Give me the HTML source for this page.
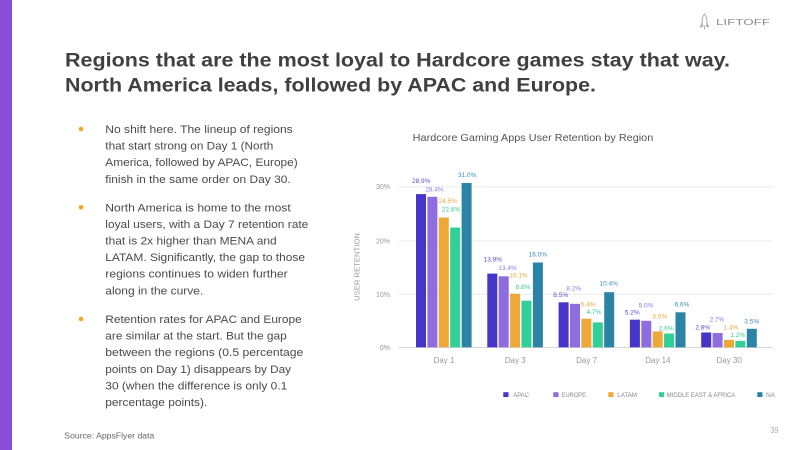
<!DOCTYPE html>
<html>
<head>
<meta charset="utf-8">
<style>
  html,body{margin:0;padding:0;background:#fff;}
  svg{display:block;}
  text{font-family:"Liberation Sans",Arial,sans-serif;}
</style>
</head>
<body>
<svg width="800" height="450" viewBox="0 0 800 450" xmlns="http://www.w3.org/2000/svg">
  <rect x="0" y="0" width="800" height="450" fill="#ffffff"/>
  <!-- left purple strip -->
  <rect x="0" y="0" width="12" height="450" fill="#8a4fd6"/>

  <!-- logo -->
  <g fill="none" stroke="#9a9a9a" stroke-width="0.8">
    <path d="M704.5 14 C702.5 16.5 702 19 702 22 L702 26 L707 26 L707 22 C707 19 706.5 16.5 704.5 14 Z"/>
    <path d="M702 23 L700.5 27 L702 26.5 M707 23 L708.5 27 L707 26.5"/>
    <path d="M704.5 27 L704.5 29.5"/>
  </g>
  <text x="716" y="25" font-size="8.5" fill="#8a8a8a" textLength="54" lengthAdjust="spacingAndGlyphs">LIFTOFF</text>

  <!-- title -->
  <text x="65" y="66.5" font-size="19.5" font-weight="bold" fill="#404040" textLength="665" lengthAdjust="spacingAndGlyphs">Regions that are the most loyal to Hardcore games stay that way.</text>
  <text x="65" y="91.5" font-size="19.5" font-weight="bold" fill="#404040" textLength="531" lengthAdjust="spacingAndGlyphs">North America leads, followed by APAC and Europe.</text>

  <!-- bullets -->
  <g fill="#f5a623">
    <circle cx="81" cy="129" r="2.3"/>
    <circle cx="81" cy="207.3" r="2.3"/>
    <circle cx="81" cy="319" r="2.3"/>
  </g>
  <g font-size="11.2" fill="#4a4a4a">
    <text x="105.3" y="133" textLength="187.4" lengthAdjust="spacingAndGlyphs">No shift here. The lineup of regions</text>
    <text x="105.3" y="149.6" textLength="168" lengthAdjust="spacingAndGlyphs">that start strong on Day 1 (North</text>
    <text x="105.3" y="166.2" textLength="192.4" lengthAdjust="spacingAndGlyphs">America, followed by APAC, Europe)</text>
    <text x="105.3" y="182.8" textLength="185.4" lengthAdjust="spacingAndGlyphs">finish in the same order on Day 30.</text>

    <text x="105.3" y="211.3" textLength="185.4" lengthAdjust="spacingAndGlyphs">North America is home to the most</text>
    <text x="105.3" y="227.9" textLength="203" lengthAdjust="spacingAndGlyphs">loyal users, with a Day 7 retention rate</text>
    <text x="105.3" y="244.5" textLength="171.4" lengthAdjust="spacingAndGlyphs">that is 2x higher than MENA and</text>
    <text x="105.3" y="261.1" textLength="199.7" lengthAdjust="spacingAndGlyphs">LATAM. Significantly, the gap to those</text>
    <text x="105.3" y="277.7" textLength="182.4" lengthAdjust="spacingAndGlyphs">regions continues to widen further</text>
    <text x="105.3" y="294.3" textLength="98" lengthAdjust="spacingAndGlyphs">along in the curve.</text>

    <text x="105.3" y="323" textLength="196.4" lengthAdjust="spacingAndGlyphs">Retention rates for APAC and Europe</text>
    <text x="105.3" y="339.6" textLength="181.4" lengthAdjust="spacingAndGlyphs">are similar at the start. But the gap</text>
    <text x="105.3" y="356.2" textLength="198" lengthAdjust="spacingAndGlyphs">between the regions (0.5 percentage</text>
    <text x="105.3" y="372.8" textLength="185.7" lengthAdjust="spacingAndGlyphs">points on Day 1) disappears by Day</text>
    <text x="105.3" y="389.4" textLength="182" lengthAdjust="spacingAndGlyphs">30 (when the difference is only 0.1</text>
    <text x="105.3" y="406" textLength="102" lengthAdjust="spacingAndGlyphs">percentage points).</text>
  </g>

  <!-- source / page -->
  <text x="64.3" y="438.5" font-size="8" fill="#666" textLength="90" lengthAdjust="spacingAndGlyphs">Source: AppsFlyer data</text>
  <text x="770" y="433" font-size="8" fill="#aaa" textLength="8.5" lengthAdjust="spacingAndGlyphs">39</text>

  <!-- chart title -->
  <text x="412.7" y="141" font-size="10.5" fill="#555" textLength="240.6" lengthAdjust="spacingAndGlyphs">Hardcore Gaming Apps User Retention by Region</text>

  <!-- gridlines -->
  <g stroke="#ececec" stroke-width="1">
    <line x1="398" y1="186.7" x2="773" y2="186.7"/>
    <line x1="398" y1="241" x2="773" y2="241"/>
    <line x1="398" y1="294.3" x2="773" y2="294.3"/>
  </g>
  <line x1="398" y1="347.5" x2="773" y2="347.5" stroke="#d6d6d6" stroke-width="1"/>

  <!-- y axis labels -->
  <g font-size="7" fill="#999" text-anchor="end">
    <text x="390" y="189.2">30%</text>
    <text x="390" y="243.5">20%</text>
    <text x="390" y="296.8">10%</text>
    <text x="390" y="349.8">0%</text>
  </g>
  <text transform="translate(359.5,267) rotate(-90)" x="0" y="0" font-size="7" fill="#999" text-anchor="middle" textLength="68" lengthAdjust="spacingAndGlyphs">USER RETENTION</text>

  <!-- bars -->
  <!-- APAC -->
  <g fill="#4535c8">
    <rect x="416" y="194.1" width="10" height="153.2"/>
    <rect x="487.3" y="273.6" width="10" height="73.7"/>
    <rect x="558.6" y="302.3" width="10" height="45"/>
    <rect x="629.9" y="319.7" width="10" height="27.6"/>
    <rect x="701.2" y="332.5" width="10" height="14.8"/>
  </g>
  <!-- EUROPE -->
  <g fill="#8d6ddf">
    <rect x="427.4" y="196.8" width="10" height="150.5"/>
    <rect x="498.7" y="276.3" width="10" height="71"/>
    <rect x="570" y="303.8" width="10" height="43.5"/>
    <rect x="641.3" y="320.8" width="10" height="26.5"/>
    <rect x="712.6" y="333" width="10" height="14.3"/>
  </g>
  <!-- LATAM -->
  <g fill="#eea838">
    <rect x="438.8" y="217.5" width="10" height="129.8"/>
    <rect x="510.1" y="293.8" width="10" height="53.5"/>
    <rect x="581.4" y="318.7" width="10" height="28.6"/>
    <rect x="652.7" y="331.4" width="10" height="15.9"/>
    <rect x="724" y="339.9" width="10" height="7.4"/>
  </g>
  <!-- MEA -->
  <g fill="#31d096">
    <rect x="450.2" y="227.5" width="10" height="119.8"/>
    <rect x="521.5" y="300.7" width="10" height="46.6"/>
    <rect x="592.8" y="322.4" width="10" height="24.9"/>
    <rect x="664.1" y="333.5" width="10" height="13.8"/>
    <rect x="735.4" y="340.9" width="10" height="6.4"/>
  </g>
  <!-- NA -->
  <g fill="#2b84a6">
    <rect x="461.6" y="183" width="10" height="164.3"/>
    <rect x="532.9" y="262.5" width="10" height="84.8"/>
    <rect x="604.2" y="292.2" width="10" height="55.1"/>
    <rect x="675.5" y="312.3" width="10" height="35"/>
    <rect x="746.8" y="328.8" width="10" height="18.5"/>
  </g>

  <!-- data labels -->
  <g font-size="6.5" text-anchor="middle">
    <g fill="#5a4bd2">
      <text x="421.2" y="183">28.9%</text>
      <text x="492.8" y="261.3">13.9%</text>
      <text x="560.7" y="297">8.5%</text>
      <text x="632.2" y="314.6">5.2%</text>
      <text x="702.8" y="329.6">2.8%</text>
    </g>
    <g fill="#9278e2">
      <text x="434.5" y="191.6">28.4%</text>
      <text x="507.5" y="270">13.4%</text>
      <text x="573.7" y="290.6">8.2%</text>
      <text x="646" y="307.3">5.0%</text>
      <text x="717" y="321.6">2.7%</text>
    </g>
    <g fill="#eaa83c">
      <text x="447.7" y="203">24.5%</text>
      <text x="518.5" y="277.6">10.1%</text>
      <text x="588.3" y="306.3">5.4%</text>
      <text x="659.7" y="318.3">3.0%</text>
      <text x="731" y="329.6">1.4%</text>
    </g>
    <g fill="#35c98f">
      <text x="451" y="211.3">22.6%</text>
      <text x="523" y="289">8.8%</text>
      <text x="594" y="314">4.7%</text>
      <text x="666.2" y="330.6">2.6%</text>
      <text x="737.8" y="337">1.2%</text>
    </g>
    <g fill="#3a8fb0">
      <text x="467.2" y="177">31.0%</text>
      <text x="537.8" y="256.6">16.0%</text>
      <text x="608.7" y="285.6">10.4%</text>
      <text x="682" y="306.6">6.6%</text>
      <text x="751.7" y="323.6">3.5%</text>
    </g>
  </g>

  <!-- category labels -->
  <g font-size="8" fill="#999" text-anchor="middle">
    <text x="444" y="363">Day 1</text>
    <text x="515.3" y="363">Day 3</text>
    <text x="586.6" y="363">Day 7</text>
    <text x="657.9" y="363">Day 14</text>
    <text x="729.2" y="363">Day 30</text>
  </g>

  <!-- legend -->
  <rect x="503.3" y="392.2" width="5.2" height="4.8" fill="#4535c8"/>
  <rect x="553.3" y="392.2" width="5.2" height="4.8" fill="#8d6ddf"/>
  <rect x="608.3" y="392.2" width="5.2" height="4.8" fill="#eea838"/>
  <rect x="659" y="392.2" width="5.2" height="4.8" fill="#31d096"/>
  <rect x="757.3" y="392.2" width="5.2" height="4.8" fill="#2b84a6"/>
  <g font-size="6.3" fill="#888">
    <text x="513.3" y="397" textLength="15.7" lengthAdjust="spacingAndGlyphs">APAC</text>
    <text x="561.7" y="397" textLength="24.3" lengthAdjust="spacingAndGlyphs">EUROPE</text>
    <text x="617.3" y="397" textLength="19.7" lengthAdjust="spacingAndGlyphs">LATAM</text>
    <text x="666.7" y="397" textLength="68.6" lengthAdjust="spacingAndGlyphs">MIDDLE EAST &amp; AFRICA</text>
    <text x="766" y="397" textLength="9" lengthAdjust="spacingAndGlyphs">NA</text>
  </g>
</svg>
</body>
</html>
